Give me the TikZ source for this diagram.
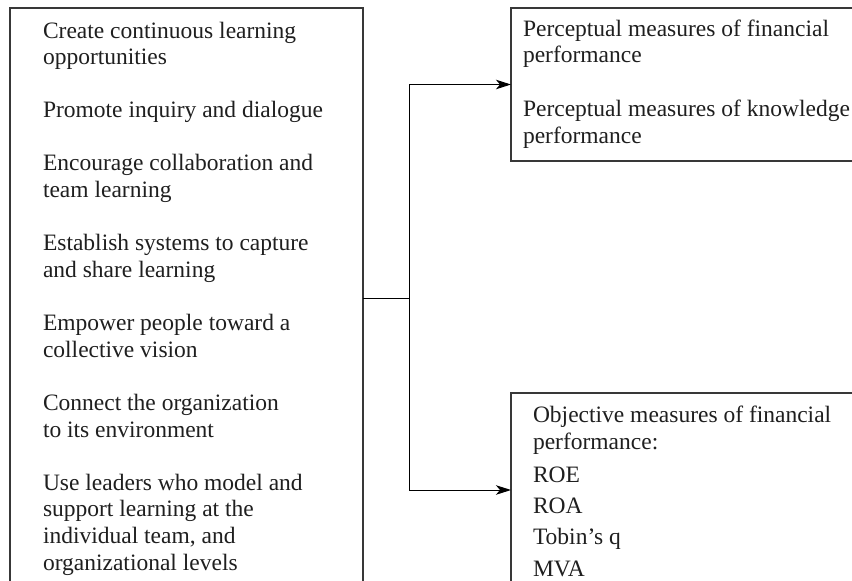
\documentclass[tikz,border=0pt]{standalone}
\usepackage{fontspec}
\setmainfont{Liberation Serif}
\usetikzlibrary{arrows.meta}
\begin{document}
\begin{tikzpicture}[x=1pt,y=-1pt,
  box/.style={draw=black!78, line width=1.3pt, inner sep=0pt, outer sep=0pt, anchor=north west},
  txt/.style={anchor=base west, inner sep=0pt, outer sep=0pt, font=\fontsize{23.5}{26.8}\selectfont, text=black!88},
  conn/.style={draw=black, line width=1pt},
  tip/.style={-{Stealth[length=15pt,width=9.5pt,inset=4pt]}}]
\clip (0,0) rectangle (852,581);
\fill[white] (0,0) rectangle (852,581);
% boxes
\node[box, minimum width=353pt, minimum height=620pt] (L) at (10,8) {};
\node[box, minimum width=380pt, minimum height=153pt] (T) at (511,8) {};
\node[box, minimum width=380pt, minimum height=194pt] (B) at (511,393) {};
% left texts
\node[txt] (l1) at (43,38) {Create continuous learning};
\node[txt] (l2) at (43,64.8) {opportunities};
\node[txt] (l3) at (43,117.8) {Promote inquiry and dialogue};
\node[txt] (l4) at (43,170.8) {Encourage collaboration and};
\node[txt] (l5) at (43,197.6) {team learning};
\node[txt] (l6) at (43,250.6) {Establish systems to capture};
\node[txt] (l7) at (43,277.4) {and share learning};
\node[txt] (l8) at (43,330.4) {Empower people toward a};
\node[txt] (l9) at (43,357.2) {collective vision};
\node[txt] (l10) at (43,410.2) {Connect the organization};
\node[txt] (l11) at (43,437) {to its environment};
\node[txt] (l12) at (43,490) {Use leaders who model and};
\node[txt] (l13) at (43,516.8) {support learning at the};
\node[txt] (l14) at (43,543.6) {individual team, and};
\node[txt] (l15) at (43,570.4) {organizational levels};
% top right texts
\node[txt] (t1) at (523,36) {Perceptual measures of financial};
\node[txt] (t2) at (523,62.8) {performance};
\node[txt] (t3) at (523,116.8) {Perceptual measures of knowledge};
\node[txt] (t4) at (523,143.6) {performance};
% bottom right texts
\node[txt] (b1) at (533,422) {Objective measures of financial};
\node[txt] (b2) at (533,449) {performance:};
\node[txt] (b3) at (533,482) {ROE};
\node[txt] (b4) at (533,513) {ROA};
\node[txt] (b5) at (533,544) {Tobin’s q};
\node[txt] (b6) at (533,576) {MVA};
% connectors
\coordinate (J) at (409,298);
\draw[conn] (L.east |- J) -- (J);
\draw[conn,tip] (J) |- (T.west);
\draw[conn,tip] (J) |- (B.west);
\end{tikzpicture}
\end{document}
